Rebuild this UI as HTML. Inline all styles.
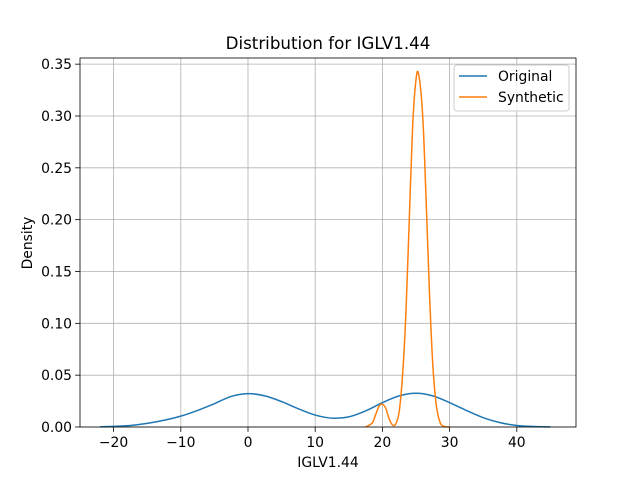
<!DOCTYPE html>
<html><head><meta charset="utf-8"><style>
body{margin:0;background:#fff}
svg text{font-family:"DejaVu Sans","Liberation Sans",sans-serif;fill:#000}
</style></head><body>
<svg id="c" width="640" height="480" xmlns="http://www.w3.org/2000/svg"></svg>
<script>
const xTicks=[-20,-10,0,10,20,30,40];
const yTicks=[0.00,0.05,0.10,0.15,0.20,0.25,0.30,0.35];
const origX=[-22,-20,-17.5,-15,-12.5,-10,-7.5,-5,-2.5,0,2.5,5,7.5,10,12.5,15,17.5,20,22.5,25,27.5,30,32.5,35,37.5,40,42.5,45];
const origY=[0.0002,0.0006,0.0015,0.0035,0.0065,0.0105,0.016,0.0225,0.0295,0.0322,0.030,0.0245,0.0175,0.0115,0.0085,0.0098,0.0155,0.0235,0.0300,0.0325,0.0300,0.0235,0.0160,0.0090,0.0042,0.0015,0.0005,0.0001];
const synX=[17.5,18.5,19,19.5,20,20.5,21,21.5,22,22.5,23,23.5,24,24.5,25,25.4,26,26.5,27,27.5,28,28.5,29,30];
const synY=[0,0.004,0.012,0.02,0.022,0.018,0.008,0.002,0.003,0.015,0.05,0.11,0.2,0.29,0.335,0.34,0.3,0.22,0.13,0.06,0.022,0.006,0.001,0];
const L=80,R=576,T=58,B=427;
const sx=v=>248+(v-0)*6.72;
const sy=v=>B-v*1036.7;
const svg=document.getElementById('c');
const NS='http://www.w3.org/2000/svg';
function mk(t,a,p){const e=document.createElementNS(NS,t);for(const k in a)e.setAttribute(k,a[k]);(p||svg).appendChild(e);return e;}
const grid=mk('g',{});


xTicks.forEach(v=>{const x=sx(v);
 mk('line',{x1:x,x2:x,y1:T,y2:B,stroke:'#b0b0b0','stroke-width':0.8},grid);
 mk('line',{x1:x,x2:x,y1:B,y2:B+4.9,stroke:'#000','stroke-width':0.8});
 const t=mk('text',{x:x,y:B+20,'font-size':13.9,'text-anchor':'middle'});t.textContent=String(v).replace('-','\u2212');
 
 });
yTicks.forEach(v=>{const y=sy(v);
 mk('line',{x1:L,x2:R,y1:y,y2:y,stroke:'#b0b0b0','stroke-width':0.8},grid);
 mk('line',{x1:L-4.9,x2:L,y1:y,y2:y,stroke:'#000','stroke-width':0.8});
 const t=mk('text',{x:L-8,y:y+5,'font-size':13.9,'text-anchor':'end'});t.textContent=v.toFixed(2);
 
 });
function path(xs,ys){const p=xs.map((x,i)=>[sx(x),sy(ys[i])]);let d='M'+p[0][0]+','+p[0][1];
 for(let i=0;i<p.length-1;i++){const p0=p[i-1]||p[i],p1=p[i],p2=p[i+1],p3=p[i+2]||p2;
  d+=` C${p1[0]+(p2[0]-p0[0])/6},${p1[1]+(p2[1]-p0[1])/6} ${p2[0]-(p3[0]-p1[0])/6},${p2[1]-(p3[1]-p1[1])/6} ${p2[0]},${p2[1]}`;}
 return d;}
const o=mk('path',{d:path(origX,origY),fill:'none',stroke:'#1f77b4','stroke-width':1.5});


const s=mk('path',{d:path(synX,synY),fill:'none',stroke:'#ff7f0e','stroke-width':1.5});


const fr=mk('rect',{x:L,y:T,width:R-L,height:B-T,fill:'none',stroke:'#000','stroke-width':0.8});


const ti=mk('text',{x:328,y:49,'font-size':16.7,'text-anchor':'middle'});ti.textContent='Distribution for IGLV1.44';


const xl=mk('text',{x:328,y:467,'font-size':13.9,'text-anchor':'middle'});xl.textContent='IGLV1.44';


const yl=mk('text',{x:0,y:0,'font-size':13.9,'text-anchor':'middle',transform:'translate(32,243) rotate(-90)'});yl.textContent='Density';


const lg=mk('g',{});


mk('rect',{x:454,y:65,width:115,height:46,rx:3,fill:'#fff','fill-opacity':0.8,stroke:'#ccc'},lg);
[['Original','#1f77b4',76],['Synthetic','#ff7f0e',97]].forEach(([n,c,y])=>{
 mk('line',{x1:459,x2:487,y1:y,y2:y,stroke:c,'stroke-width':1.5},lg);
 const t=mk('text',{x:498,y:y+5,'font-size':13.9},lg);t.textContent=n;
 
 });
</script>
</body></html>
